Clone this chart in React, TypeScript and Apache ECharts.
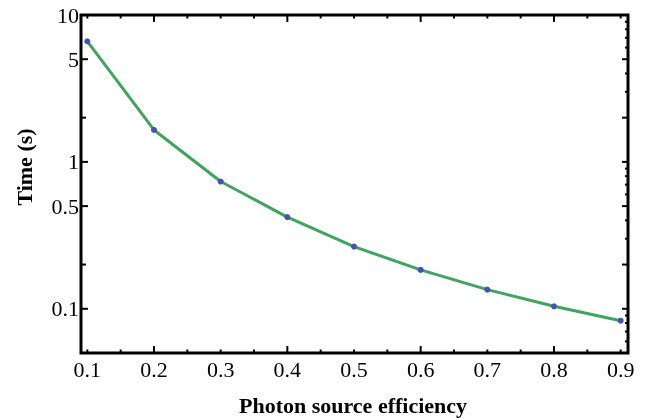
import React, { useEffect, useRef } from "react";
import * as echarts from "echarts";

const efficiency = [0.1, 0.2, 0.3, 0.4, 0.5, 0.6, 0.7, 0.8, 0.9];
const timeSeconds = [6.62, 1.65, 0.735, 0.421, 0.265, 0.184, 0.135, 0.104, 0.083];

const xLabelTicks = [0.1, 0.2, 0.3, 0.4, 0.5, 0.6, 0.7, 0.8, 0.9];
const xMajorTicks = [0.2, 0.4, 0.6, 0.8];
const xMinorTicks = [0.1, 0.15, 0.25, 0.3, 0.35, 0.45, 0.5, 0.55, 0.65, 0.7, 0.75, 0.85, 0.9];

const yLabelTicks = [0.1, 0.5, 1, 5, 10];
const yLeftMajorTicks = [0.1, 0.5, 1, 5];
const yLeftMinorTicks = [0.2, 2];
const yRightMajorTicks = [0.1, 0.2, 0.5, 1, 2, 5];
const yRightMinorTicks = [0.06, 0.07, 0.08, 0.09, 0.3, 0.4, 0.6, 0.7, 0.8, 0.9, 3, 4, 6, 7, 8, 9];

const X_MIN = 0.0905;
const X_MAX = 0.911;
const Y_MIN = 0.05;
const Y_MAX = 10;

const FONT = "'Liberation Serif', 'Times New Roman', serif";

export default function App() {
  const ref = useRef<HTMLDivElement>(null);

  useEffect(() => {
    if (!ref.current) return;
    const chart = echarts.init(ref.current, undefined, { renderer: "svg" });

    const xTickData = [
      ...xMajorTicks.map((v) => [v, Y_MIN, 7]),
      ...xMinorTicks.map((v) => [v, Y_MIN, 3.5]),
    ];
    const yLeftData = [
      ...yLeftMajorTicks.map((v) => [X_MIN, v, 7]),
      ...yLeftMinorTicks.map((v) => [X_MIN, v, 5]),
    ];
    const yRightData = [
      ...yRightMajorTicks.map((v) => [X_MAX, v, 6]),
      ...yRightMinorTicks.map((v) => [X_MAX, v, 3]),
    ];

    const textStyle = (text: string, align: string, vAlign: string, font: string) => ({
      text,
      fill: "#000",
      font,
      align,
      verticalAlign: vAlign,
      textAlign: align,
      textVerticalAlign: vAlign,
    });

    chart.setOption({
      animation: false,
      grid: {
        left: 81,
        top: 15,
        right: 22,
        bottom: 66,
        show: true,
        borderColor: "#000",
        borderWidth: 3,
        backgroundColor: "transparent",
      },
      xAxis: {
        type: "value",
        min: X_MIN,
        max: X_MAX,
        axisLine: { show: false },
        axisTick: { show: false },
        axisLabel: { show: false },
        splitLine: { show: false },
      },
      yAxis: {
        type: "log",
        logBase: 10,
        min: Y_MIN,
        max: Y_MAX,
        axisLine: { show: false },
        axisTick: { show: false },
        axisLabel: { show: false },
        splitLine: { show: false },
        minorTick: { show: false },
      },
      graphic: [
        {
          type: "text",
          x: 353,
          y: 405,
          style: textStyle("Photon source efficiency", "center", "middle", `bold 22px ${FONT}`),
        },
        {
          type: "text",
          x: 24,
          y: 167,
          rotation: Math.PI / 2,
          style: textStyle("Time (s)", "center", "middle", `bold 22px ${FONT}`),
        },
      ],
      series: [
        {
          type: "custom",
          name: "xTicks",
          clip: false,
          silent: true,
          data: xTickData,
          renderItem: (params: any, api: any) => {
            const cs = params.coordSys;
            const p = api.coord([api.value(0), Y_MIN]);
            const len = api.value(2);
            const bottom = cs.y + cs.height;
            return {
              type: "group",
              children: [
                { type: "line", shape: { x1: p[0], y1: bottom, x2: p[0], y2: bottom - len }, style: { stroke: "#000", lineWidth: 2 } },
                { type: "line", shape: { x1: p[0], y1: cs.y, x2: p[0], y2: cs.y + len }, style: { stroke: "#000", lineWidth: 2 } },
              ],
            };
          },
        },
        {
          type: "custom",
          name: "xLabels",
          clip: false,
          silent: true,
          data: xLabelTicks.map((v) => [v, Y_MIN]),
          renderItem: (params: any, api: any) => {
            const cs = params.coordSys;
            const v = api.value(0);
            const p = api.coord([v, Y_MIN]);
            return {
              type: "text",
              x: p[0],
              y: cs.y + cs.height + 5,
              style: textStyle(String(Math.round(v * 10) / 10), "center", "top", `22px ${FONT}`),
            };
          },
        },
        {
          type: "custom",
          name: "yLeftTicks",
          clip: false,
          silent: true,
          data: yLeftData,
          renderItem: (params: any, api: any) => {
            const cs = params.coordSys;
            const p = api.coord([X_MIN, api.value(1)]);
            const len = api.value(2);
            return {
              type: "line",
              shape: { x1: cs.x, y1: p[1], x2: cs.x + len, y2: p[1] },
              style: { stroke: "#000", lineWidth: 2 },
            };
          },
        },
        {
          type: "custom",
          name: "yRightTicks",
          clip: false,
          silent: true,
          data: yRightData,
          renderItem: (params: any, api: any) => {
            const cs = params.coordSys;
            const p = api.coord([X_MAX, api.value(1)]);
            const len = api.value(2);
            const right = cs.x + cs.width;
            return {
              type: "line",
              shape: { x1: right, y1: p[1], x2: right - len, y2: p[1] },
              style: { stroke: "#000", lineWidth: 2 },
            };
          },
        },
        {
          type: "custom",
          name: "yLabels",
          clip: false,
          silent: true,
          data: yLabelTicks.map((v) => [X_MIN, v]),
          renderItem: (params: any, api: any) => {
            const cs = params.coordSys;
            const v = api.value(1);
            const p = api.coord([X_MIN, v]);
            return {
              type: "text",
              x: cs.x - 2,
              y: p[1],
              style: textStyle(String(v), "right", "middle", `22px ${FONT}`),
            };
          },
        },
        {
          type: "line",
          name: "Time",
          data: efficiency.map((x, i) => [x, timeSeconds[i]]),
          symbol: "circle",
          symbolSize: 6,
          showSymbol: true,
          itemStyle: { color: "#4a4fb3" },
          lineStyle: { color: "#3ea55e", width: 3 },
          z: 5,
        },
      ],
    });

    return () => chart.dispose();
  }, []);

  return <div ref={ref} style={{ position: "fixed", left: 0, top: 0, width: 650, height: 419 }} />;
}
